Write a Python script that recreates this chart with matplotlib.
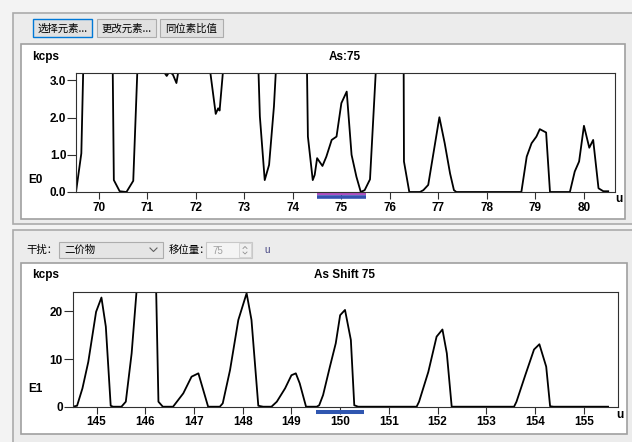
import matplotlib
matplotlib.use('Agg')
import matplotlib.pyplot as plt
from matplotlib.patches import Rectangle

# spectrum E0 (As:75), values above 3.2 are off-scale
e0_mass = [69.53, 69.64, 69.70, 69.90, 70.10, 70.28, 70.31, 70.43, 70.57, 70.71,
           70.83, 71.00, 71.20, 71.33, 71.40, 71.46, 71.53, 71.60, 71.66, 71.90,
           72.10, 72.29, 72.41, 72.46, 72.49, 72.57, 72.80, 73.10, 73.29, 73.32,
           73.42, 73.51, 73.61, 73.66, 73.90, 74.10, 74.29, 74.31, 74.41, 74.45,
           74.50, 74.61, 74.69, 74.80, 74.90, 75.00, 75.11, 75.21, 75.31, 75.40,
           75.48, 75.59, 75.72, 75.90, 76.10, 76.28, 76.29, 76.40, 76.62, 76.69,
           76.79, 77.02, 77.13, 77.24, 77.32, 77.37, 78.71, 78.82, 78.92, 79.02,
           79.09, 79.22, 79.30, 79.71, 79.81, 79.90, 80.00, 80.11, 80.19, 80.30,
           80.40, 80.50]
e0_kcps = [0.0, 1.04, 4.5, 9.0, 8.0, 4.2, 0.32, 0.02, 0.0, 0.3,
           4.5, 6.0, 4.0, 3.25, 3.12, 3.25, 3.15, 2.93, 3.4, 5.0,
           4.5, 3.3, 2.10, 2.25, 2.19, 3.4, 6.0, 5.0, 3.3, 2.03,
           0.32, 0.73, 2.3, 3.5, 6.0, 5.0, 3.4, 1.49, 0.32, 0.46,
           0.91, 0.70, 0.95, 1.40, 1.49, 2.39, 2.70, 1.0, 0.41, 0.0,
           0.05, 0.34, 3.5, 8.0, 9.0, 5.0, 0.82, 0.0, 0.0, 0.05,
           0.19, 2.01, 1.31, 0.50, 0.05, 0.0, 0.0, 0.95, 1.31, 1.49,
           1.69, 1.60, 0.0, 0.0, 0.55, 0.82, 1.78, 1.19, 1.40, 0.1,
           0.02, 0.02]

# spectrum E1 (As Shift 75)
e1_mass = [144.51, 144.60, 144.71, 144.83, 144.99, 145.10, 145.19, 145.29, 145.34, 145.51,
           145.60, 145.72, 145.85, 146.00, 146.15, 146.22, 146.27, 146.36, 146.57, 146.78,
           146.95, 147.09, 147.29, 147.53, 147.59, 147.74, 147.91, 148.08, 148.18, 148.32,
           148.42, 148.59, 148.70, 148.87, 149.00, 149.09, 149.17, 149.30, 149.52, 149.57,
           149.65, 149.79, 149.91, 150.00, 150.10, 150.22, 150.29, 150.37, 151.57, 151.62,
           151.81, 151.98, 152.10, 152.19, 152.29, 153.57, 153.62, 153.80, 153.98, 154.09,
           154.23, 154.31, 154.38, 155.50]
e1_kcps = [0.0, 0.2, 3.85, 9.4, 19.9, 22.9, 16.8, 0.2, 0.0, 0.0,
           1.05, 11.2, 28.0, 35.0, 32.0, 26.0, 1.05, 0.0, 0.0, 2.8,
           6.3, 7.0, 0.0, 0.0, 0.7, 7.7, 18.2, 23.8, 18.2, 0.2,
           0.0, 0.0, 1.05, 3.85, 6.6, 7.0, 4.9, 0.0, 0.0, 0.3,
           2.45, 8.4, 13.3, 19.2, 20.3, 14.0, 0.3, 0.0, 0.0, 1.05,
           7.3, 14.7, 16.2, 11.2, 0.0, 0.0, 1.05, 6.6, 12.0, 13.1,
           8.4, 0.1, 0.0, 0.0]

e0_ticks = [0, 1, 2, 3]
e0_ticklabels = ['0.0', '1.0', '2.0', '3.0']
e1_ticks = [0, 10, 20]
e0_window = (74.5, 75.5)
e1_window = (149.5, 150.5)

cjk = ['Noto Sans CJK SC', 'DejaVu Sans']
lab = dict(family='Liberation Sans', weight='bold', fontsize=8.5)

W, H = 632, 442
fig = plt.figure(figsize=(W / 100, H / 100), dpi=100)
fig.patch.set_facecolor('#f3f3f3')

# ui layer in pixel coordinates
ui = fig.add_axes([0, 0, 1, 1])
ui.set_xlim(0, W)
ui.set_ylim(H, 0)
ui.axis('off')


def box(x0, y0, x1, y1, fc='none', ec='#a0a0a0', lw=1.0):
    ui.add_patch(Rectangle((x0, y0), x1 - x0, y1 - y0, facecolor=fc, edgecolor=ec, lw=lw))


# group boxes
box(13, 13, 650, 224, fc='#ececec', ec='#aaaaaa', lw=1.2)
box(13, 230, 650, 450, fc='#ececec', ec='#aaaaaa', lw=1.2)

# buttons
box(33, 19, 92, 37, fc='#e1e1e1', ec='#0078d7', lw=1.0)
box(97, 19, 156, 37, fc='#e1e1e1', ec='#adadad', lw=0.8)
box(160, 19, 223, 37, fc='#e1e1e1', ec='#adadad', lw=0.8)
ui.text(62.5, 28.5, '选择元素...', family=cjk, fontsize=7.5, ha='center', va='center')
ui.text(126.5, 28.5, '更改元素...', family=cjk, fontsize=7.5, ha='center', va='center')
ui.text(191.5, 28.5, '同位素比值', family=cjk, fontsize=7.5, ha='center', va='center')

# interference row
ui.text(26, 250, '干扰：', family=cjk, fontsize=7.5, ha='left', va='center')
box(59, 242, 163, 258, fc='#e5e5e5', ec='#adadad', lw=0.8)
ui.text(64, 250, '二价物', family=cjk, fontsize=7.5, ha='left', va='center')
ui.plot([150, 153.5, 157], [248, 251.5, 248], color='#606060', lw=0.8)
ui.text(169, 250, '移位量：', family=cjk, fontsize=7.5, ha='left', va='center')
box(206, 242, 252, 258, fc='#f4f4f4', ec='#c8c8c8', lw=0.8)
ui.text(212, 250.5, '75', family='Liberation Sans', fontsize=7, color='#a0a0a0',
        ha='left', va='center')
box(239, 243, 251, 257, fc='#f0f0f0', ec='#d0d0d0', lw=0.6)
ui.plot([243, 245, 247], [248.5, 246.5, 248.5], color='#909090', lw=0.6)
ui.plot([243, 245, 247], [252, 254, 252], color='#909090', lw=0.6)
ui.text(267, 250, 'u', family='Liberation Sans', fontsize=7, color='#404080',
        ha='center', va='center')

# chart panels
box(21, 44, 625, 219, fc='white', ec='#a0a0a0', lw=1.2)
box(21, 263, 627, 434, fc='white', ec='#a0a0a0', lw=1.2)

ui.text(32, 57, 'kcps', ha='left', va='center', **lab)
ui.text(345, 57, 'As:75', ha='center', va='center', **lab)
ui.text(28, 180, 'E0', ha='left', va='center', **lab)
ui.text(619, 199, 'u', ha='center', va='center', **lab)

ui.text(32, 275, 'kcps', ha='left', va='center', **lab)
ui.text(345, 275, 'As Shift 75', ha='center', va='center', **lab)
ui.text(28, 389, 'E1', ha='left', va='center', **lab)
ui.text(620, 415, 'u', ha='center', va='center', **lab)


def frame(px0, py0, px1, py1):
    ax = fig.add_axes([px0 / W, 1 - py1 / H, (px1 - px0) / W, (py1 - py0) / H])
    ax.set_facecolor('white')
    for s in ax.spines.values():
        s.set_color('#303030')
        s.set_linewidth(0.8)
    ax.tick_params(axis='x', length=5, width=0.8, pad=2, color='#303030')
    ax.tick_params(axis='y', length=6.5, width=0.8, pad=0.5, color='#303030')
    return ax


ax0 = frame(76, 73, 615, 192)
ax0.plot(e0_mass, e0_kcps, color='black', lw=1.3)
ax0.set_xlim(69.53, 80.64)
ax0.set_ylim(0, 3.2)
ax0.set_xticks(range(70, 81))
ax0.set_yticks(e0_ticks)
ax0.set_yticklabels(e0_ticklabels)
ax0.plot(e0_window, [-0.020, -0.020], color='#b050c0', lw=1.5,
         transform=ax0.get_xaxis_transform(), clip_on=False, solid_capstyle='butt')
ax0.plot(e0_window, [-0.045, -0.045], color='#3550b0', lw=2.6,
         transform=ax0.get_xaxis_transform(), clip_on=False, solid_capstyle='butt')

ax1 = frame(72.7, 292.3, 618.3, 406.7)
ax1.plot(e1_mass, e1_kcps, color='black', lw=1.3)
ax1.set_xlim(144.51, 155.71)
ax1.set_ylim(0, 24)
ax1.set_xticks(range(145, 156))
ax1.set_yticks(e1_ticks)
ax1.plot(e1_window, [-0.044, -0.044], color='#2f56b0', lw=2.9,
         transform=ax1.get_xaxis_transform(), clip_on=False, solid_capstyle='butt')

for ax in (ax0, ax1):
    for t in ax.get_xticklabels() + ax.get_yticklabels():
        t.set_fontfamily('Liberation Sans')
        t.set_fontweight('bold')
        t.set_fontsize(8.5)

fig.savefig('out.png', dpi=100, facecolor=fig.get_facecolor())
